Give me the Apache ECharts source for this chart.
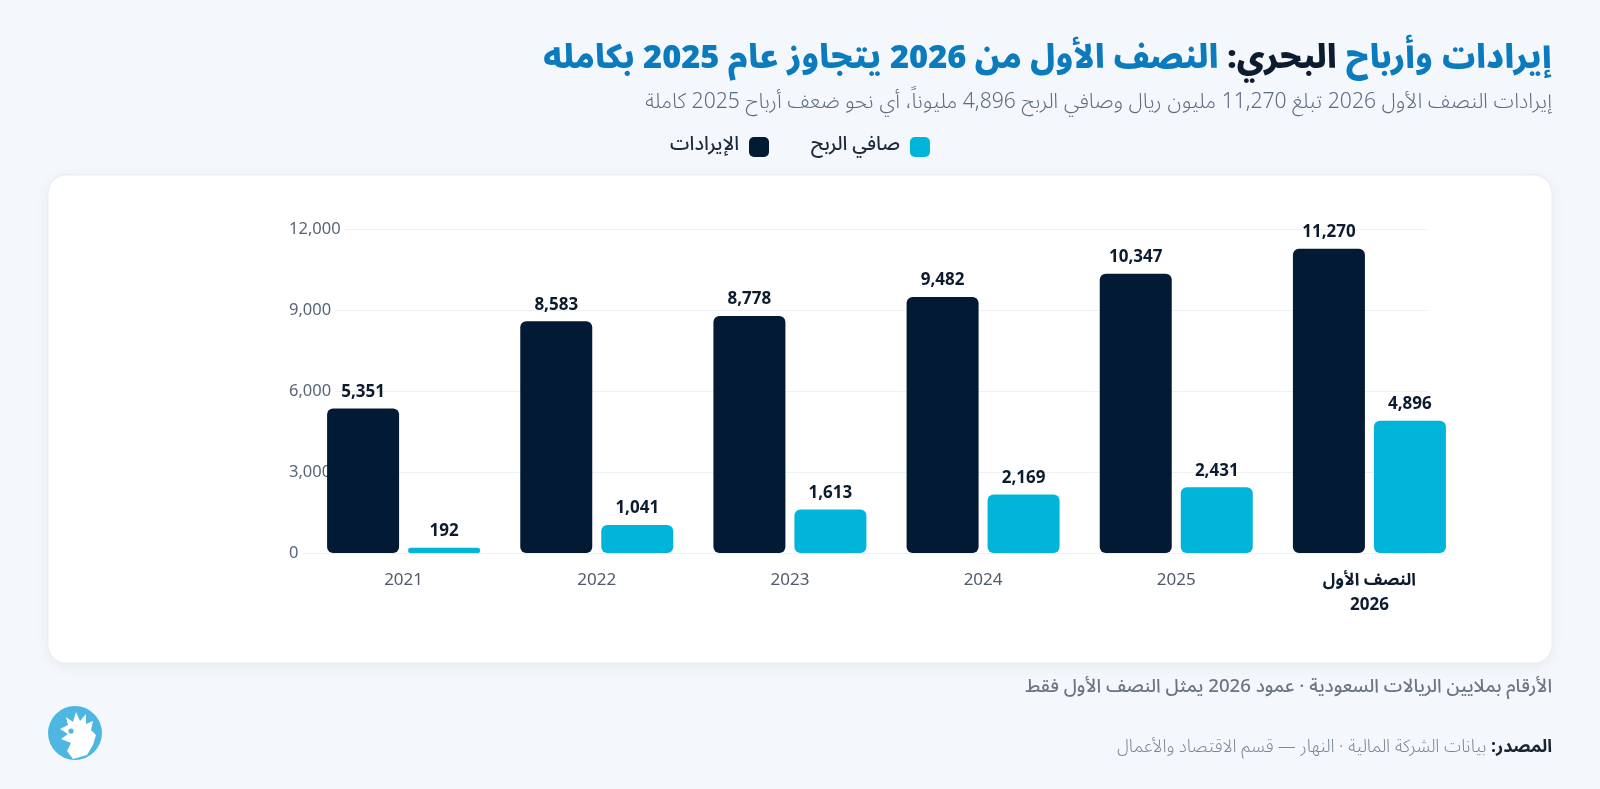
<!DOCTYPE html>
<html lang="ar">
<head>
<meta charset="utf-8">
<script src="https://cdn.jsdelivr.net/npm/echarts@6/dist/echarts.min.js"></script>
<style>
html,body{margin:0;padding:0;background:#f4f7fb;}
#chart{width:1600px;height:789px;}
</style>
</head>
<body>
<div id="chart" dir="rtl"></div>
<script>
// ---- data ----
const categories = ['2021', '2022', '2023', '2024', '2025', 'النصف الأول\n2026'];
const revenue = [5351, 8583, 8778, 9482, 10347, 11270];
const netProfit = [192, 1041, 1613, 2169, 2431, 4896];
const seriesNames = ['الإيرادات', 'صافي الربح'];
const yTickValues = [0, 3000, 6000, 9000, 12000];

const titleBlue1 = 'إيرادات وأرباح';
const titleDark = 'البحري:';
const titleBlue2 = 'النصف الأول من 2026 يتجاوز عام 2025 بكامله';
const subtitleText = 'إيرادات النصف الأول 2026 تبلغ 11,270 مليون ريال وصافي الربح 4,896 مليوناً، أي نحو ضعف أرباح 2025 كاملة';
const noteText = 'الأرقام بملايين الريالات السعودية · عمود 2026 يمثل النصف الأول فقط';
const sourceLabel = 'المصدر:';
const sourceText = 'بيانات الشركة المالية · النهار — قسم الاقتصاد والأعمال';

// ---- style ----
const AR = "'Noto Sans Arabic','Noto Naskh Arabic','DejaVu Sans',sans-serif";
const LAT = "'Noto Sans','Open Sans',sans-serif";
const NAVY = '#021a33';
const CYAN = '#00b5d9';
const BLUE = '#0b7bbd';
const TEXT_DARK = '#0d1b2e';
const fmt = v => Number(v).toLocaleString('en-US');

const yMin = yTickValues[0];
const yMax = yTickValues[yTickValues.length - 1];
const yInterval = yTickValues[1] - yTickValues[0];

const chart = echarts.init(document.getElementById('chart'));

const option = {
  backgroundColor: '#f4f7fb',
  animation: false,
  title: [
    {
      text: '{b|' + titleBlue2 + '}{s| }{d|' + titleDark + '}{s| }{b|' + titleBlue1 + '}',
      right: 48, top: 40, padding: 0,
      textStyle: {
        rich: {
          b: { fontFamily: AR, fontSize: 32.6, fontWeight: 900, color: BLUE, lineHeight: 46 },
          d: { fontFamily: AR, fontSize: 32.6, fontWeight: 900, color: TEXT_DARK, lineHeight: 46 },
          s: { fontFamily: AR, fontSize: 32.6, fontWeight: 900, lineHeight: 46 }
        }
      }
    },
    {
      text: subtitleText,
      right: 48, top: 91, padding: 0,
      textStyle: { fontFamily: AR, fontSize: 21.1, fontWeight: 300, color: '#5c6b7e', lineHeight: 28 }
    }
  ],
  legend: {
    data: seriesNames,
    left: 'center',
    top: 132,
    align: 'right',
    itemWidth: 20,
    itemHeight: 20,
    itemGap: 42,
    icon: 'roundRect',
    textStyle: { fontFamily: AR, fontSize: 19.5, fontWeight: 500, color: '#1d2939', padding: [0, 5, 0, 0] }
  },
  graphic: [
    {
      type: 'rect', z: -10,
      shape: { x: 48, y: 175, width: 1504, height: 488, r: 18 },
      style: { fill: '#ffffff', stroke: '#e7edf3', lineWidth: 1, shadowBlur: 16, shadowColor: 'rgba(15,35,60,0.06)', shadowOffsetY: 3 }
    },
    {
      type: 'text', z: 5,
      style: {
        text: noteText, x: 1552, y: 689, align: 'right', verticalAlign: 'middle',
        font: '500 18.6px ' + AR, fill: '#6b7482'
      }
    },
    {
      type: 'text', z: 5,
      style: {
        text: '{n|' + sourceText + '}{n| }{b|' + sourceLabel + '}',
        x: 1552, y: 749, align: 'right', verticalAlign: 'middle',
        rich: {
          n: { fontFamily: AR, fontSize: 17.6, fontWeight: 300, fill: '#7a8494' },
          b: { fontFamily: AR, fontSize: 17.6, fontWeight: 'bold', fill: '#1a2433' }
        }
      }
    },
    {
      type: 'circle', z: 5,
      shape: { cx: 75, cy: 733, r: 27 },
      style: { fill: '#4db6e2' }
    },
    {
      type: 'polygon', z: 6, x: 75, y: 733,
      shape: { points: [[-15,-4],[-7,-8],[-9,-16],[-2,-11],[1,-21],[5,-12],[11,-19],[11,-9],[18,-12],[16,-3],[21,2],[18,12],[12,22],[-2,26],[-8,18],[-4,10],[-14,6],[-7,1]] },
      style: { fill: '#ffffff' }
    },
    {
      type: 'circle', z: 7,
      shape: { cx: 71, cy: 731, r: 2.6 },
      style: { fill: '#4db6e2' }
    }
  ],
  grid: [
    { left: 289, right: 173, top: 229, bottom: 236 },
    { left: 307, right: 134, top: 229, bottom: 236 }
  ],
  xAxis: [
    {
      type: 'category', gridIndex: 0, data: categories, show: false
    },
    {
      type: 'category', gridIndex: 1, data: categories,
      axisLine: { show: false }, axisTick: { show: false },
      axisLabel: {
        margin: 15,
        formatter: (v, i) => i === categories.length - 1
          ? v.split('\n').map(s => '{h|' + s + '}').join('\n')
          : '{n|' + v + '}',
        rich: {
          n: { fontFamily: LAT, fontSize: 17, color: '#4f5b6b', lineHeight: 25 },
          h: { fontFamily: LAT + ',' + AR, fontSize: 17, fontWeight: 'bold', color: TEXT_DARK, lineHeight: 25 }
        }
      }
    }
  ],
  yAxis: [
    {
      type: 'value', gridIndex: 0, min: yMin, max: yMax, interval: yInterval,
      axisLine: { show: false }, axisTick: { show: false },
      splitLine: { lineStyle: { color: '#edf0f4', width: 1 } },
      axisLabel: {
        inside: true, margin: 0, align: 'left',
        formatter: v => fmt(v),
        fontFamily: LAT, fontSize: 16.5, color: '#566579',
        backgroundColor: '#ffffff', padding: [2, 4, 2, 0]
      }
    },
    {
      type: 'value', gridIndex: 1, min: yMin, max: yMax, interval: yInterval, show: false,
      splitLine: { show: false }
    }
  ],
  series: [
    {
      name: seriesNames[0], type: 'bar', xAxisIndex: 1, yAxisIndex: 1,
      data: revenue, barWidth: 72, barGap: '12.5%',
      itemStyle: { color: NAVY, borderRadius: 6 },
      label: {
        show: true, position: 'top', distance: 8,
        formatter: p => fmt(p.value),
        fontFamily: LAT, fontSize: 17, fontWeight: 'bold', color: TEXT_DARK
      }
    },
    {
      name: seriesNames[1], type: 'bar', xAxisIndex: 1, yAxisIndex: 1,
      data: netProfit, barWidth: 72, barGap: '12.5%',
      itemStyle: { color: CYAN, borderRadius: 6 },
      label: {
        show: true, position: 'top', distance: 8,
        formatter: p => fmt(p.value),
        fontFamily: LAT, fontSize: 17, fontWeight: 'bold', color: TEXT_DARK
      }
    }
  ]
};
chart.setOption(option);
</script>
</body>
</html>
